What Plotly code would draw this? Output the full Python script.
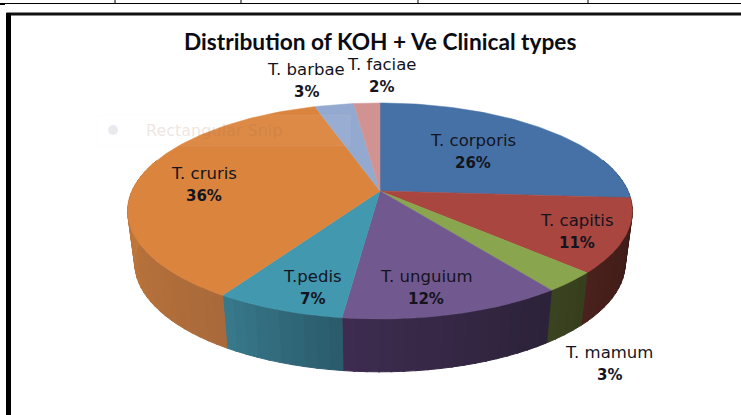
import math
import plotly.graph_objects as go

# ---- data ----
categories = ["T. corporis", "T. capitis", "T. mamum", "T. unguium",
              "T.pedis", "T. cruris", "T. barbae", "T. faciae"]
percent_values = [26, 11, 3, 12, 7, 36, 3, 2]
title_text = "Distribution of KOH + Ve Clinical types"

top_colors = ["#4571A6", "#A8463F", "#89A54E", "#71588F",
              "#4198AF", "#DB843D", "#93A9CF", "#D19392"]
side_left_colors = ["#2F4E73", "#4A211C", "#3B4420", "#3E2C50",
                    "#38798C", "#C87C3C", "#6F82A0", "#A07070"]
side_right_colors = ["#2F4E73", "#3A1A17", "#363D1C", "#2B2238",
                     "#2A5B6B", "#A9693A", "#6F82A0", "#A07070"]

label_pos = [(473, 140), (577, 220), (609, 352), (426, 276),
             (312, 276), (204, 173), (306, 69), (381, 64)]

# ---- projection of the tilted disc (pixel space of a 741x415 page) ----
CX, CY = 380, 191
A, B, K = 248, 104.3, 0.185
CX2, CY2, A2, B2 = 380, 243, 241, 105


def top_ring(f):
    t = 2 * math.pi * f
    u, v = math.sin(t), math.cos(t)
    w = 1 + K * v
    return CX + A * u / w, CY - B * v / w


def low_ring(f):
    t = 2 * math.pi * f
    u, v = math.sin(t), math.cos(t)
    w = 1 + K * v
    return CX2 + A2 * u / w, CY2 - B2 * v / w


def mix(c1, c2, r):
    a = [int(c1[i:i + 2], 16) for i in (1, 3, 5)]
    b = [int(c2[i:i + 2], 16) for i in (1, 3, 5)]
    return "rgb(%d,%d,%d)" % tuple(round(a[i] + (b[i] - a[i]) * r) for i in range(3))


total = sum(percent_values)
edges = [0]
for val in percent_values:
    edges.append(edges[-1] + val / total)

fig = go.Figure()

# side wall, drawn as thin shaded strips
for i, name in enumerate(categories):
    f0, f1 = edges[i], edges[i + 1]
    if f1 <= 0.2 or f0 >= 0.8:
        continue
    f0c, f1c = max(f0, 0.2), min(f1, 0.8)
    n = max(2, int((f1c - f0c) * 150))
    for s in range(n):
        a0 = f0c + (f1c - f0c) * s / n
        a1 = min(f0c + (f1c - f0c) * (s + 1.15) / n, f1c)
        p = [top_ring(a0), top_ring(a1), low_ring(a1), low_ring(a0), top_ring(a0)]
        col = mix(side_right_colors[i], side_left_colors[i], (s + 0.5) / n)
        fig.add_trace(go.Scatter(x=[q[0] for q in p], y=[q[1] for q in p], mode="lines",
                                 fill="toself", fillcolor=col, line=dict(width=1, color=col),
                                 hoverinfo="skip", showlegend=False))

# top face
for i, name in enumerate(categories):
    f0, f1 = edges[i], edges[i + 1]
    n = max(8, int((f1 - f0) * 300))
    pts = [(CX, CY)] + [top_ring(f0 + (f1 - f0) * s / n) for s in range(n + 1)] + [(CX, CY)]
    fig.add_trace(go.Scatter(x=[q[0] for q in pts], y=[q[1] for q in pts], mode="lines",
                             fill="toself", fillcolor=top_colors[i],
                             line=dict(width=0.5, color=top_colors[i]),
                             name=name, text=f"{name}: {percent_values[i]}%", hoverinfo="text",
                             showlegend=False))

annotations = [dict(x=380, y=41, text=f"<b>{title_text}</b>", showarrow=False,
                    font=dict(family="Lato", size=22.7, color="#0B0B14"))]
for name, val, (lx, ly) in zip(categories, percent_values, label_pos):
    annotations.append(dict(x=lx, y=ly, text=name, showarrow=False,
                            font=dict(family="DejaVu Sans", size=16.5, color="#14141E")))
    annotations.append(dict(x=lx, y=ly + 23, text=f"<b>{val}%</b>", showarrow=False,
                            font=dict(family="DejaVu Sans", size=15, color="#14141E")))
annotations.append(dict(x=214, y=130, text="Rectangular Snip", showarrow=False,
                        font=dict(family="DejaVu Sans", size=16, color="rgba(150,100,70,0.18)")))

shapes = [
    dict(type="rect", x0=97, x1=350, y0=115, y1=146, fillcolor="rgba(255,255,255,0.05)",
         line=dict(color="rgba(232,236,248,0.08)", width=1), layer="above"),
    dict(type="circle", x0=108, x1=118, y0=125, y1=135, fillcolor="rgba(215,215,228,0.55)",
         line=dict(width=0), layer="above"),
    dict(type="line", x0=0, x1=741, y0=3.5, y1=3.5, line=dict(color="#000", width=1)),
    dict(type="line", x0=0, x1=5, y0=4.5, y1=4.5, line=dict(color="#000", width=1)),
    dict(type="line", x0=6.5, x1=741, y0=14, y1=14, line=dict(color="#111", width=3)),
    dict(type="line", x0=8.5, x1=8.5, y0=13, y1=415, line=dict(color="#000", width=5)),
]
for tx in (115, 241, 418, 588):
    shapes.append(dict(type="line", x0=tx, x1=tx, y0=0, y1=3, line=dict(color="#000", width=1)))

fig.update_layout(
    width=741, height=415, autosize=False,
    margin=dict(l=0, r=0, t=0, b=0),
    paper_bgcolor="white", plot_bgcolor="white",
    xaxis=dict(range=[0, 741], visible=False, fixedrange=True),
    yaxis=dict(range=[415, 0], visible=False, fixedrange=True),
    annotations=annotations, shapes=shapes, showlegend=False,
)
fig.write_html("out.html", config=dict(displayModeBar=False),
               post_script="document.body.style.margin='0';document.body.style.overflow='hidden';")
